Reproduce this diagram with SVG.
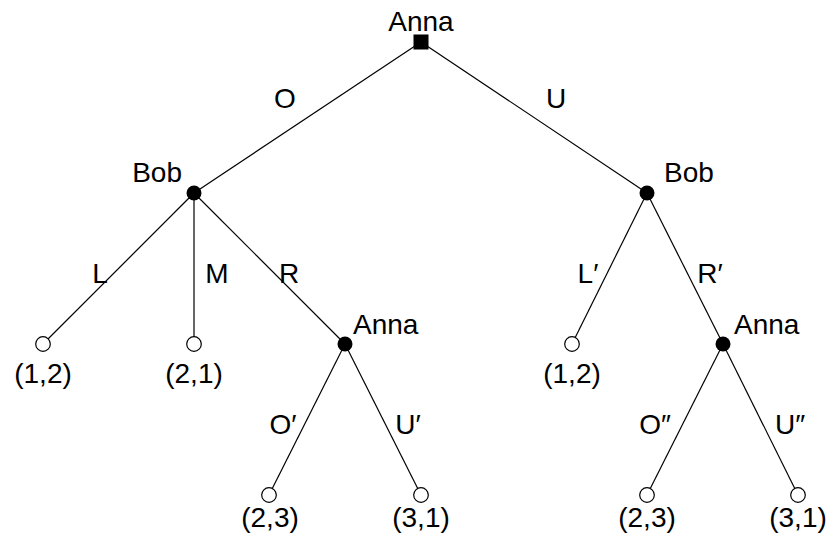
<svg xmlns="http://www.w3.org/2000/svg" width="830" height="542" viewBox="0 0 830 542">
<style>
text{font-family:"Liberation Sans",Arial,sans-serif;font-size:28px;fill:#000}
.m{text-anchor:middle}
.e{text-anchor:end}
.edge{stroke:#000;stroke-width:1.2;fill:none}
.dec{fill:#000}
.leaf{fill:#fff;stroke:#000;stroke-width:1.2}
</style>
<rect width="830" height="542" fill="#fff"/>
<g id="connectors">
<line class="edge" x1="421" y1="42" x2="194" y2="193"/>
<line class="edge" x1="421" y1="42" x2="647" y2="193"/>
<line class="edge" x1="194" y1="193" x2="43" y2="344"/>
<line class="edge" x1="194" y1="193" x2="194" y2="344"/>
<line class="edge" x1="194" y1="193" x2="345" y2="344"/>
<line class="edge" x1="647" y1="193" x2="572" y2="344"/>
<line class="edge" x1="647" y1="193" x2="723" y2="344"/>
<line class="edge" x1="345" y1="344" x2="269" y2="495"/>
<line class="edge" x1="345" y1="344" x2="421" y2="495"/>
<line class="edge" x1="723" y1="344" x2="647" y2="495"/>
<line class="edge" x1="723" y1="344" x2="798" y2="495"/>
<text class="m" x="285" y="108">O</text>
<text class="m" x="556" y="108">U</text>
<text class="m" x="100" y="283">L</text>
<text class="m" x="217" y="283">M</text>
<text class="m" x="289" y="283">R</text>
<text class="m" x="588" y="283">L′</text>
<text class="m" x="710" y="283">R′</text>
<text class="m" x="283" y="434">O′</text>
<text class="m" x="408" y="434">U′</text>
<text class="m" x="655" y="434">O″</text>
<text class="m" x="790" y="434">U″</text>
</g>
<g id="root">
<rect class="dec" x="413.5" y="34.5" width="15" height="15"/>
<text class="m" x="421" y="31">Anna</text>
</g>
<g id="bob1">
<circle class="dec" cx="194" cy="193" r="7.5"/>
<text class="e" x="182" y="182">Bob</text>
</g>
<g id="bob2">
<circle class="dec" cx="647" cy="193" r="7.5"/>
<text x="664" y="182">Bob</text>
</g>
<g id="leafL">
<circle class="leaf" cx="43" cy="344" r="7.3"/>
<text class="m" x="43" y="383">(1,2)</text>
</g>
<g id="leafM">
<circle class="leaf" cx="194" cy="344" r="7.3"/>
<text class="m" x="194" y="383">(2,1)</text>
</g>
<g id="anna1">
<circle class="dec" cx="345" cy="344" r="7.5"/>
<text x="353" y="334">Anna</text>
</g>
<g id="leafL2">
<circle class="leaf" cx="572" cy="344" r="7.3"/>
<text class="m" x="572" y="383">(1,2)</text>
</g>
<g id="anna2">
<circle class="dec" cx="723" cy="344" r="7.5"/>
<text x="734" y="334">Anna</text>
</g>
<g id="leafO1">
<circle class="leaf" cx="269" cy="495" r="7.3"/>
<text class="m" x="270" y="527">(2,3)</text>
</g>
<g id="leafU1">
<circle class="leaf" cx="421" cy="495" r="7.3"/>
<text class="m" x="421" y="527">(3,1)</text>
</g>
<g id="leafO2">
<circle class="leaf" cx="647" cy="495" r="7.3"/>
<text class="m" x="647" y="527">(2,3)</text>
</g>
<g id="leafU2">
<circle class="leaf" cx="798" cy="495" r="7.3"/>
<text class="m" x="798" y="527">(3,1)</text>
</g>
</svg>
